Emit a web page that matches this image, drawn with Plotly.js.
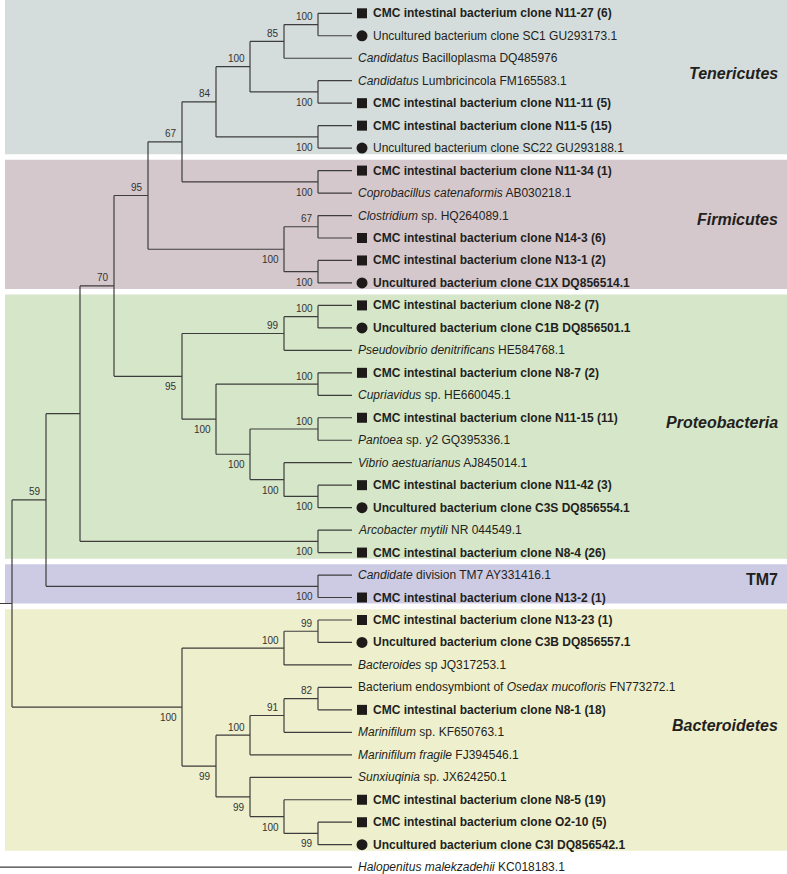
<!DOCTYPE html>
<html>
<head>
<meta charset="utf-8">
<script src="https://cdn.plot.ly/plotly-3.0.1.min.js"></script>
<style>html,body{margin:0;padding:0;background:#fff;}#chart{width:787px;height:874px;}</style>
</head>
<body>
<div id="chart"></div>
<script>
// ---------- DATA ----------
const leafLabels = [
  "<b>CMC intestinal bacterium clone N11-27 (6)</b>",
  "Uncultured bacterium clone SC1 GU293173.1",
  "<i>Candidatus</i> Bacilloplasma DQ485976",
  "<i>Candidatus</i> Lumbricincola FM165583.1",
  "<b>CMC intestinal bacterium clone N11-11 (5)</b>",
  "<b>CMC intestinal bacterium clone N11-5 (15)</b>",
  "Uncultured bacterium clone SC22 GU293188.1",
  "<b>CMC intestinal bacterium clone N11-34 (1)</b>",
  "<i>Coprobacillus catenaformis</i> AB030218.1",
  "<i>Clostridium</i> sp. HQ264089.1",
  "<b>CMC intestinal bacterium clone N14-3 (6)</b>",
  "<b>CMC intestinal bacterium clone N13-1 (2)</b>",
  "<b>Uncultured bacterium clone C1X DQ856514.1</b>",
  "<b>CMC intestinal bacterium clone N8-2 (7)</b>",
  "<b>Uncultured bacterium clone C1B DQ856501.1</b>",
  "<i>Pseudovibrio denitrificans</i> HE584768.1",
  "<b>CMC intestinal bacterium clone N8-7 (2)</b>",
  "<i>Cupriavidus</i> sp. HE660045.1",
  "<b>CMC intestinal bacterium clone N11-15 (11)</b>",
  "<i>Pantoea</i> sp. y2 GQ395336.1",
  "<i>Vibrio aestuarianus</i> AJ845014.1",
  "<b>CMC intestinal bacterium clone N11-42 (3)</b>",
  "<b>Uncultured bacterium clone C3S DQ856554.1</b>",
  "<i>Arcobacter mytili</i> NR 044549.1",
  "<b>CMC intestinal bacterium clone N8-4 (26)</b>",
  "<i>Candidate</i> division TM7 AY331416.1",
  "<b>CMC intestinal bacterium clone N13-2 (1)</b>",
  "<b>CMC intestinal bacterium clone N13-23 (1)</b>",
  "<b>Uncultured bacterium clone C3B DQ856557.1</b>",
  "<i>Bacteroides</i> sp JQ317253.1",
  "Bacterium endosymbiont of <i>Osedax mucofloris</i> FN773272.1",
  "<b>CMC intestinal bacterium clone N8-1 (18)</b>",
  "<i>Marinifilum</i> sp. KF650763.1",
  "<i>Marinifilum fragile</i> FJ394546.1",
  "<i>Sunxiuqinia</i> sp. JX624250.1",
  "<b>CMC intestinal bacterium clone N8-5 (19)</b>",
  "<b>CMC intestinal bacterium clone O2-10 (5)</b>",
  "<b>Uncultured bacterium clone C3I DQ856542.1</b>",
  "<i>Halopenitus malekzadehii</i> KC018183.1"
];
// marker per leaf: s = square (CMC clone), c = circle (uncultured clone), "" = none
const leafMarkers = ["s","c","","","s","s","c","s","","","s","s","c",
                     "s","c","","s","","s","","","s","c","","s",
                     "","s",
                     "s","c","","","s","","","","s","s","c",
                     ""];
// topology with bootstrap support (u = label above branch, d = below)
const treeNewick =
  "(((((((((((0,1)100u,2)85u,(3,4)100d)100u,(5,6)100d)84u,(7,8)100d)67u," +
  "((9,10)67u,(11,12)100d)100d)95u," +
  "(((13,14)100u,15)99u,((16,17)100u,((18,19)100u,(20,(21,22)100d)100d)100d)100d)95d)70u," +
  "(23,24)100d)," +
  "(25,26)100d)59u," +
  "(((27,28)99u,29)100u,((((30,31)82u,32)91u,33)100u,(34,(35,(36,37)99d)100d)99d)99d)100d)," +
  "38);";
const cladeNames  = ["Tenericutes","Firmicutes","Proteobacteria","TM7","Bacteroidetes"];
const cladeFirst  = [0, 7, 13, 25, 27];
const cladeLast   = [6, 12, 24, 26, 37];
const cladeColors = ["#d4dddb","#d5c8cc","#d6e6c8","#cdcbe4","#eeefcc"];
const cladeItalic = [true, true, true, false, true];

// ---------- PARSE TREE ----------
function parseNewick(s){
  let p = 0;
  function readLabel(){
    let t = "";
    while (p < s.length && ",);".indexOf(s[p]) < 0) t += s[p++];
    return t;
  }
  function node(){
    if (s[p] === "("){
      p++;
      const ch = [node()];
      while (s[p] === ","){ p++; ch.push(node()); }
      p++; // ')'
      const lab = readLabel();
      return {children: ch, label: lab};
    }
    return {leaf: parseInt(readLabel(), 10)};
  }
  return node();
}
const root = parseNewick(treeNewick);
function layoutNode(n){
  if (n.children === undefined){ n.h = 0; n.y = n.leaf; return; }
  n.children.forEach(layoutNode);
  n.h = 1 + Math.max(...n.children.map(c => c.h));
  const ys = n.children.map(c => c.y);
  n.ymin = Math.min(...ys); n.ymax = Math.max(...ys);
  n.y = (n.ymin + n.ymax) / 2;
}
layoutNode(root);
const maxH = root.h;

const lx = [], ly = [];
const bootAnn = [];
function draw(n){
  n.x = maxH - n.h;
  if (n.children === undefined) return;
  lx.push(n.x, n.x, null); ly.push(n.ymin, n.ymax, null);
  n.children.forEach(c => {
    c.x = maxH - c.h;
    lx.push(n.x, c.x, null); ly.push(c.y, c.y, null);
    draw(c);
  });
  if (n.label){
    const m = n.label.match(/^(\d+)([ud])$/);
    if (m){
      bootAnn.push({
        x: n.x, y: n.y, xref: "x", yref: "y", text: m[1], showarrow: false,
        xanchor: "right", yanchor: "middle", xshift: -3,
        yshift: m[2] === "u" ? 8 : -10.5,
        font: {family: "Liberation Sans, Arial, sans-serif", size: 10, color: "#333333"}
      });
    }
  }
}
draw(root);

// ---------- SCALES ----------
const pxPerX = 34, pxPerY = 22.47;
const W = 787, H = 874;
const xr0 = 22 / pxPerX;
const xRange = [xr0, xr0 + W / pxPerX];
const yr0 = -13.3 / pxPerY;
const yRange = [yr0 + H / pxPerY, yr0];

const tipX = maxH;
const markerOffset = 10 / pxPerX;

const sqX = [], sqY = [], ciX = [], ciY = [];
leafMarkers.forEach((m, i) => {
  if (m === "s"){ sqX.push(tipX + markerOffset); sqY.push(i); }
  if (m === "c"){ ciX.push(tipX + markerOffset); ciY.push(i); }
});

const leafAnn = leafLabels.map((t, i) => ({
  x: tipX, y: i, xref: "x", yref: "y", text: t, showarrow: false,
  xanchor: "left", yanchor: "middle", xshift: leafMarkers[i] ? 19 : 4,
  font: {family: "Liberation Sans, Arial, sans-serif", size: 12, color: "#231f20"}
}));

const shapes = cladeNames.map((c, i) => ({
  type: "rect", layer: "below", xref: "paper", yref: "y",
  x0: 5 / W, x1: 1,
  y0: cladeFirst[i] === 0 ? yr0 : cladeFirst[i] - 0.48,
  y1: cladeLast[i] + 0.27,
  fillcolor: cladeColors[i], line: {width: 0}
}));

const cladeAnn = cladeNames.map((c, i) => ({
  x: 780 / W, xref: "paper", y: (cladeFirst[i] - 0.48 + cladeLast[i] + 0.27) / 2 - 0.2, yref: "y",
  text: cladeItalic[i] ? "<b><i>" + c + "</i></b>" : "<b>" + c + "</b>",
  showarrow: false, xanchor: "right", yanchor: "middle",
  font: {family: "Liberation Sans, Arial, sans-serif", size: 16, color: "#231f20"}
}));

const traces = [
  {x: lx, y: ly, mode: "lines", type: "scatter",
   line: {color: "#3d3d3d", width: 1.2}, hoverinfo: "skip"},
  {x: sqX, y: sqY, mode: "markers", type: "scatter",
   marker: {symbol: "square", size: 10, color: "#1e1a1a"}, hoverinfo: "skip", cliponaxis: false},
  {x: ciX, y: ciY, mode: "markers", type: "scatter",
   marker: {symbol: "circle", size: 11, color: "#1e1a1a"}, hoverinfo: "skip", cliponaxis: false}
];

const layout = {
  width: W, height: H,
  margin: {l: 0, r: 0, t: 0, b: 0},
  paper_bgcolor: "#ffffff", plot_bgcolor: "rgba(0,0,0,0)",
  showlegend: false, hovermode: false,
  xaxis: {range: xRange, visible: false, fixedrange: true},
  yaxis: {range: yRange, visible: false, fixedrange: true},
  shapes: shapes,
  annotations: leafAnn.concat(bootAnn, cladeAnn)
};
Plotly.newPlot("chart", traces, layout, {staticPlot: true, displayModeBar: false});
</script>
</body>
</html>
